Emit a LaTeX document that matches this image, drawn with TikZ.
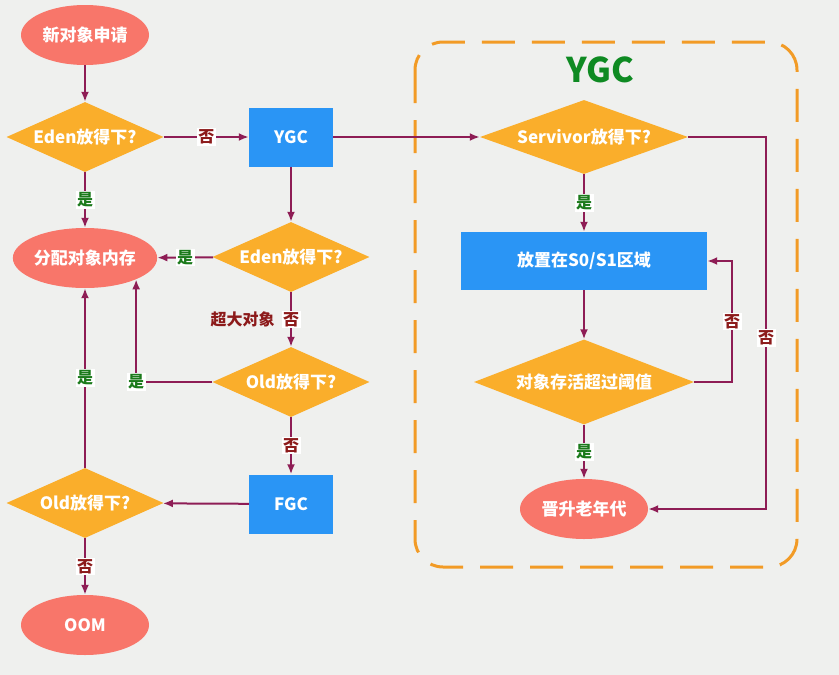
\documentclass[tikz,border=0pt]{standalone}
\usepackage{fontspec}
\setmainfont{Noto Sans CJK SC}
\usepackage{tikz}
\usetikzlibrary{arrows.meta,shapes.geometric}

\definecolor{termred}{HTML}{F8766A}
\definecolor{condorange}{HTML}{FAAE2B}
\definecolor{gcblue}{HTML}{2A95F5}
\definecolor{linkpurple}{HTML}{8E1D55}
\definecolor{yesgreen}{HTML}{1B7A1B}
\definecolor{nored}{HTML}{8C1A1A}
\definecolor{framegold}{HTML}{F29B26}
\definecolor{titlegreen}{HTML}{0E8A22}
\definecolor{bggray}{HTML}{EFF0EE}

\tikzset{
  term/.style={ellipse, fill=termred, text=white, font=\bfseries\fontsize{17}{20}\selectfont,
    minimum width=128pt, minimum height=60pt, inner sep=0pt},
  cond/.style={diamond, fill=condorange, text=white, font=\bfseries\fontsize{17}{20}\selectfont,
    aspect=2.2, inner sep=0pt, minimum width=157pt, minimum height=70pt},
  proc/.style={rectangle, fill=gcblue, text=white, font=\bfseries\fontsize{17}{20}\selectfont,
    minimum width=84pt, minimum height=59pt},
  link/.style={-{Latex[length=10pt,width=8pt]}, line width=2pt, draw=linkpurple},
  yes/.style={fill=white, text=yesgreen, font=\bfseries\fontsize{16}{18}\selectfont, inner sep=1.5pt},
  no/.style={fill=white, text=nored, font=\bfseries\fontsize{16}{18}\selectfont, inner sep=1.5pt},
}

\begin{document}
\begin{tikzpicture}[x=1pt, y=-1pt]
    \useasboundingbox (0,0) rectangle (839,675);
    \fill[bggray] (0,0) rectangle (839,675);

    % YGC frame
    \draw[framegold, line width=3pt, dash pattern=on 33pt off 17pt, rounded corners=28pt]
      (415,42) rectangle (797,567);
    \node[text=titlegreen, font=\bfseries\fontsize{34}{38}\selectfont] (title) at (600,70){YGC};

    \node[term] (new) at (85,35){新对象申请};
    \node[cond] (eden1) at (85,137){Eden放得下?};
    \node[proc] (ygc) at (291,137){YGC};
    \node[term] (alloc) at (85,258){分配对象内存};
    \node[cond] (eden2) at (291,257){Eden放得下?};
    \node[cond] (old1) at (291,382){Old放得下?};
    \node[proc] (fgc) at (291,504){FGC};
    \node[cond] (old2) at (85,503){Old放得下?};
    \node[term] (oom) at (85,625){OOM};

    \node[cond, minimum width=208pt, minimum height=74pt, aspect=2.8] (surv) at (584,137){Servivor放得下?};
    \node[proc, minimum width=246pt, minimum height=58pt] (s01) at (584,261){放置在S0/S1区域};
    \node[cond, minimum width=220pt, minimum height=85pt, aspect=2.6] (age) at (584,382){对象存活超过阈值};
    \node[term] (promo) at (584,509){晋升老年代};

    \draw[link] (new)--(eden1);
    \draw[link] (eden1)--(ygc) node[midway, no]{否};
    \draw[link] (eden1)--(alloc) node[midway, yes]{是};
    \draw[link] (ygc)--(eden2);
    \draw[link] (eden2)--(alloc) node[midway, yes]{是};
    \draw[link] (eden2)--(old1) node[midway, no]{否}
      node[midway, left=12pt, text=nored, font=\bfseries\fontsize{16}{18}\selectfont]{超大对象};
    \draw[link] (old1.west) -| (alloc.south east) node[pos=0.5, yes]{是};
    \draw[link] (old1)--(fgc) node[midway, no]{否};
    \draw[link] (fgc)--(old2);
    \draw[link] (old2)--(alloc) node[midway, yes]{是};
    \draw[link] (old2)--(oom) node[midway, no]{否};

    \draw[link] (ygc)--(surv);
    \draw[link] (surv)--(s01) node[midway, yes]{是};
    \draw[link] (s01)--(age);
    \draw[link] (age.east) -- ++(38,0) |- (s01.east) node[pos=0.25, no]{否};
    \draw[link] (age)--(promo) node[midway, yes]{是};
    \draw[link] (surv.east) -- ++(78,0) |- (promo.east) node[pos=0.27, no]{否};
  \end{tikzpicture}
\end{document}
